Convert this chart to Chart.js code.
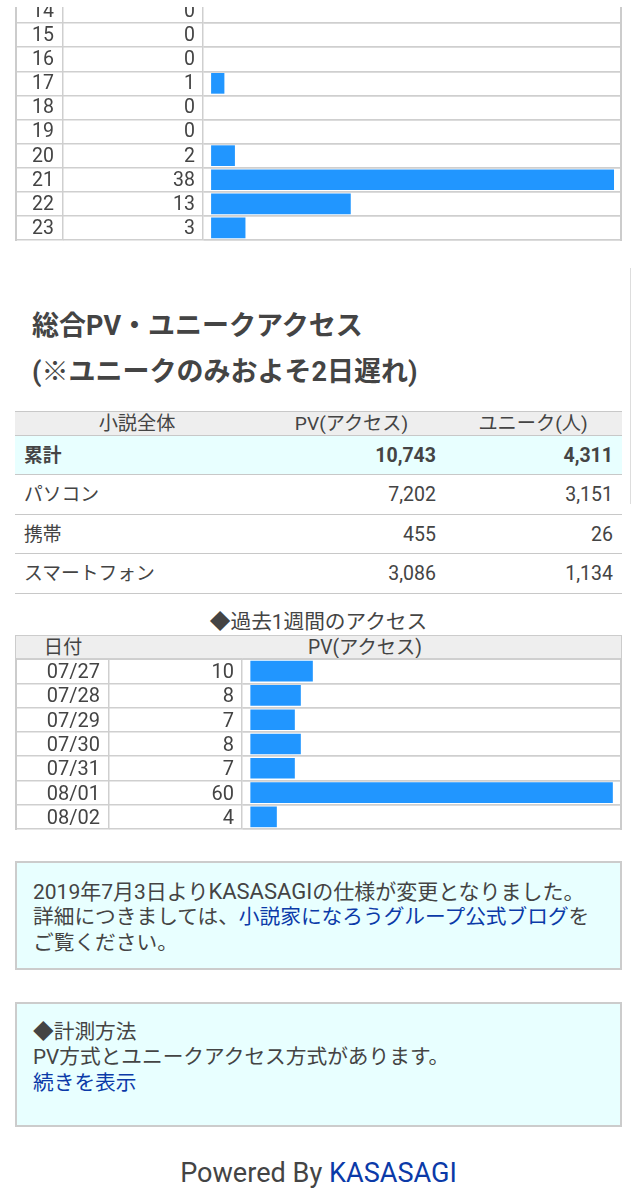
<!DOCTYPE html>
<html lang="ja">
<head>
<meta charset="utf-8">
<script src="https://cdn.jsdelivr.net/npm/chart.js@4/dist/chart.umd.min.js"></script>
<style>
    html, body { margin: 0; padding: 0; background: #fff; }
    body { position: relative; width: 631px; height: 1200px; overflow: hidden; color: #444;
        font-family: Roboto, "Noto Sans CJK JP", sans-serif; font-size: 19.5px; }
    a { color: #0b3aa8; text-decoration: none; }
    .abs { position: absolute; }
    .frame { position: absolute; left: 15px; width: 607px; box-sizing: border-box;
        border-left: 2px solid #ccc; border-right: 2px solid #ccc; }
    canvas { display: block; }
    #top-strip { left: 0; top: 0; width: 631px; height: 7px; background: #fff; z-index: 2; }
    #side-line { left: 630px; top: 268px; width: 1px; height: 236px; background: #ddd; }
    h2 { position: absolute; left: 32px; margin: 0; font-size: 27px; line-height: 46px; font-weight: 700; top: 303px; }
    #device-table { position: absolute; left: 15px; top: 411px; width: 607px; border-collapse: separate; border-spacing: 0; table-layout: fixed; }
    #device-table th { height: 23px; padding: 0; font-weight: 400; font-size: 19.2px; background: #eee; line-height: 23px;
        border-top: 1px solid #c8c8c8; border-bottom: 1px solid #c8c8c8; }
    #device-table td { height: 36.5px; padding: 2px 9px 0; text-align: right; border-bottom: 1px solid #c8c8c8; line-height: 36px; }
    #device-table td:first-child { text-align: left; font-size: 18.8px; }
    #device-table td:nth-child(2) { padding-right: 8px; }
    #device-table tr.total td { height: 36px; background: #e8ffff; font-weight: 700; }
    #week-title { left: 15px; width: 607px; top: 608px; text-align: center; font-size: 20.7px; line-height: 28px; }
    #week-head { left: 15px; top: 635px; width: 607px; height: 25px; box-sizing: border-box; background: #eee;
        border: 1.5px solid #ccc; line-height: 24px; font-size: 19.3px; }
    #week-head span { position: absolute; top: 0; transform: translateX(-50%); white-space: nowrap; }
    .note { position: absolute; left: 15px; width: 607px; box-sizing: border-box; background: #e8ffff;
        border: 2px solid #ccc; padding: 16px 16px; font-size: 20.7px; line-height: 25.3px; }
    #footer { left: 15px; width: 607px; top: 1155px; text-align: center; font-size: 27.1px; line-height: 36px; }
</style>
</head>
<body>
<div id="top-strip" class="abs"></div>
<div id="side-line" class="abs"></div>

<div class="frame" style="top:-2px;height:243px"><canvas id="hour-chart" width="603" height="243"></canvas></div>

<h2>総合PV・ユニークアクセス<br>(※ユニークのみおよそ2日遅れ)</h2>

<table id="device-table">
    <colgroup><col style="width:244px"><col style="width:185px"><col style="width:178px"></colgroup>
    <thead><tr id="device-head"></tr></thead>
    <tbody id="device-body"></tbody>
</table>

<div id="week-title" class="abs">◆過去1週間のアクセス</div>
<div id="week-head" class="abs"><span style="left:47px">日付</span><span style="left:349px">PV(アクセス)</span></div>
<div class="frame" style="top:658px;height:172px"><canvas id="day-chart" width="603" height="172"></canvas></div>

<div class="note" style="top:861px;height:109px"><span style="font-size:21px">2019年7月3日より<span style="font-size:22px">KASASAGI</span>の仕様が変更となりました。</span><br>詳細につきましては、<a href="#">小説家になろうグループ公式ブログ</a>を<br>ご覧ください。</div>
<div class="note" style="top:1002px;height:125px">◆計測方法<br>PV方式とユニークアクセス方式があります。<br><a href="#">続きを表示</a></div>

<div id="footer" class="abs">Powered By <a href="#">KASASAGI</a></div>

<script>
    var hours = ['14', '15', '16', '17', '18', '19', '20', '21', '22', '23'];
    var hourCounts = [0, 0, 0, 1, 0, 0, 2, 38, 13, 3];
    var days = ['07/27', '07/28', '07/29', '07/30', '07/31', '08/01', '08/02'];
    var dayCounts = [10, 8, 7, 8, 7, 60, 4];

    var deviceHead = ['小説全体', 'PV(アクセス)', 'ユニーク(人)'];
    var deviceNames = ['累計', 'パソコン', '携帯', 'スマートフォン'];
    var deviceViews = ['10,743', '7,202', '455', '3,086'];
    var deviceUniques = ['4,311', '3,151', '26', '1,134'];

    var lineColor = '#cfcfcf';
    var barColor = '#2196ff';
    var textColor = '#444';

    document.getElementById('device-head').innerHTML = deviceHead.map(function (t) {
        return '<th>' + t + '</th>';
    }).join('');
    document.getElementById('device-body').innerHTML = deviceNames.map(function (name, i) {
        return '<tr' + (i === 0 ? ' class="total"' : '') + '><td>' + name + '</td><td>' +
            deviceViews[i] + '</td><td>' + deviceUniques[i] + '</td></tr>';
    }).join('');

    // label column: tick marks run the whole column width so the row lines cross it
    function labelAxis(labels, width, weight, fontSize, textShift, textPad) {
        return {
            type: 'category',
            axis: 'y',
            position: 'left',
            labels: labels,
            offset: true,
            weight: weight,
            afterFit: function (scale) { scale.width = width; },
            border: { display: true, color: lineColor, width: 1.5 },
            grid: { offset: true, color: lineColor, lineWidth: 1.5, tickLength: width, tickColor: lineColor },
            ticks: {
                autoSkip: false,
                crossAlign: 'near',
                padding: textPad - width,
                labelOffset: textShift,
                color: textColor,
                font: { family: 'Roboto', size: fontSize }
            }
        };
    }

    function drawBars(id, labels, values, firstWidth, secondWidth, xMin, xMax, barBase, fontSize, textShift) {
        return new Chart(document.getElementById(id), {
            type: 'bar',
            data: {
                labels: labels,
                datasets: [{
                    data: values,
                    yAxisID: 'rows',
                    xAxisID: 'x',
                    base: barBase,
                    barThickness: 20,
                    backgroundColor: function (c) {
                        return c.raw === 0 ? 'transparent' : barColor;
                    }
                }]
            },
            options: {
                indexAxis: 'y',
                responsive: false,
                animation: false,
                layout: { padding: { top: 1, bottom: 1 } },
                plugins: { legend: { display: false }, tooltip: { enabled: false } },
                scales: {
                    x: { type: 'linear', min: xMin, max: xMax, display: false },
                    rows: labelAxis(labels, firstWidth, 2, fontSize, textShift, 9),
                    counts: labelAxis(values.map(String), secondWidth, 1, fontSize, textShift, 8)
                }
            }
        });
    }

    drawBars('hour-chart', hours, hourCounts, 46, 140, -1, 38.6, -0.2, 19.5, 1);
    drawBars('day-chart', days, dayCounts, 92, 133, -1.75, 61.25, -0.3, 20, 2);
</script>
</body>
</html>
